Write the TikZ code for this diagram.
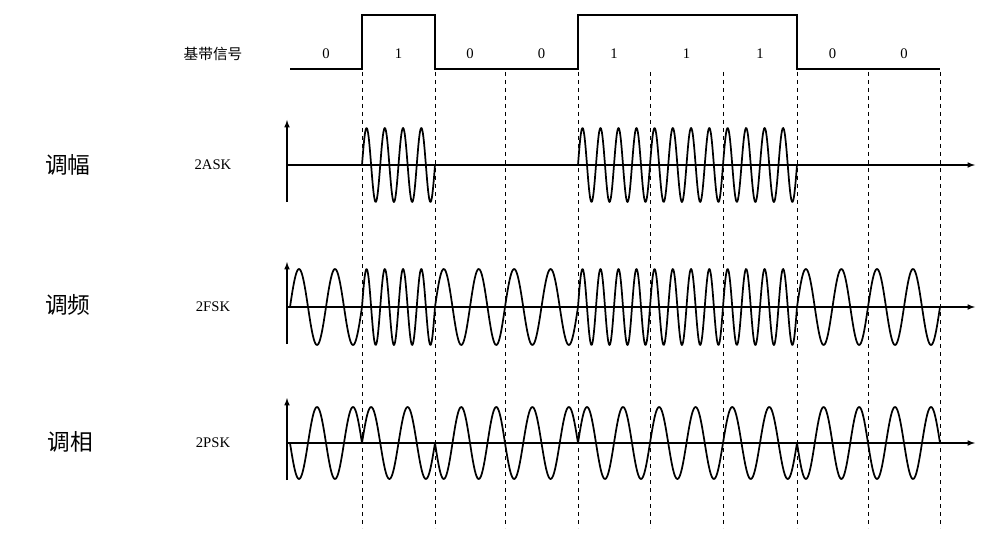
\documentclass[tikz,border=0pt]{standalone}
\usepackage{fontspec}
\setmainfont{Liberation Serif}
\newfontfamily\cjk{Noto Sans CJK SC}
\begin{document}
\begin{tikzpicture}[x=0.75pt,y=-0.75pt,
  wave/.style={line width=1.3pt,line join=round},
  ax/.style={line width=0.9pt,-latex},
  vdash/.style={dashed,line width=0.6pt},
  lab/.style={font=\fontsize{11}{11}\selectfont},
  big/.style={font=\cjk\fontsize{17}{17}\selectfont}]
\useasboundingbox (0,0) rectangle (1004,535);
% baseband
\draw[line width=1.3pt] (290,69) -- (362,69) -- (362,15) -- (435,15) -- (435,69) -- (578,69) -- (578,15) -- (797,15) -- (797,69) -- (940,69);
\foreach \a/\b/\t in {290/362/0,362/435/1,435/505/0,505/578/0,578/650/1,650/723/1,723/797/1,797/868/0,868/940/0}
  \node[lab] at ({(\a+\b)/2},54) {\t};
\foreach \xx in {362,435,505,578,650,723,797,868,940}
  \draw[vdash] (\xx,72) -- (\xx,528);
\node[font=\cjk\fontsize{11}{11}\selectfont] (bb) at (213,54) {基带信号};
\node[lab] (ask) at (213,165) {2ASK};
\node[lab] (fsk) at (213,307) {2FSK};
\node[lab] (psk) at (213,443) {2PSK};
\node[big] (t1) at (68,165) {调幅};
\node[big] (t2) at (68,305) {调频};
\node[big] (t3) at (70,442) {调相};
% axes
\foreach \y in {165,307,443} {
  \draw[ax] (287,\y) -- (975,\y);
  \draw[ax] (287,\y+37) -- (287,\y-45);
}
% waves
\foreach \a/\b/\t in {290/362/0,362/435/1,435/505/0,505/578/0,578/650/1,650/723/1,723/797/1,797/868/0,868/940/0} {
  \ifnum\t=1
    \draw[wave] plot[domain=0:1,samples=120,smooth] ({\a+\x*(\b-\a)},{165-37*sin(1440*\x)});
    \draw[wave] plot[domain=0:1,samples=120,smooth] ({\a+\x*(\b-\a)},{307-38*sin(1440*\x)});
    \draw[wave] plot[domain=0:1,samples=80,smooth] ({\a+\x*(\b-\a)},{443-36*sin(720*\x)});
  \else
    \draw[wave] plot[domain=0:1,samples=80,smooth] ({\a+\x*(\b-\a)},{307-38*sin(720*\x)});
    \draw[wave] plot[domain=0:1,samples=80,smooth] ({\a+\x*(\b-\a)},{443+36*sin(720*\x)});
  \fi
}
\end{tikzpicture}
\end{document}
